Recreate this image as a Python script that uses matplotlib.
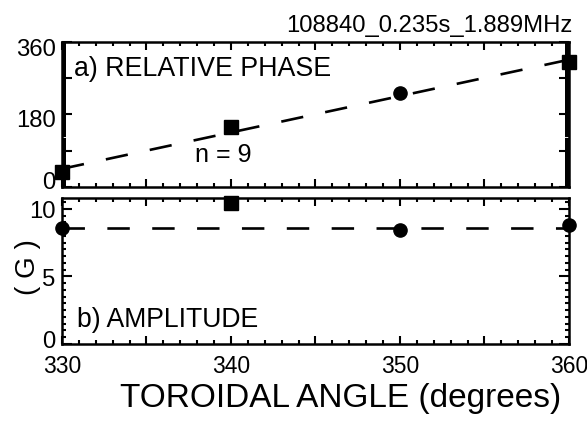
import matplotlib
matplotlib.use("Agg")
import matplotlib.pyplot as plt
import matplotlib.transforms as mtransforms
from matplotlib.ticker import FixedLocator, MultipleLocator, FixedFormatter

plt.rcParams['font.family'] = ['Liberation Sans', 'DejaVu Sans']

# toroidal probe angles (degrees)
angle = [330, 340, 350, 360]
# relative phase (degrees) and marker shape per probe
phase = [38, 149, 233, 310]
phase_marker = ['s', 's', 'o', 's']
# amplitude (G) and marker shape per probe
amplitude = [8.6, 10.4, 8.4, 8.8]
amp_marker = ['o', 's', 'o', 'o']

# n = 9 fit for the phase, and mean level for the amplitude
fit_angle = [330, 360]
fit_phase = [45, 315]
amp_level = 8.6

title = "108840_0.235s_1.889MHz"

W, H = 587, 422
fig = plt.figure(figsize=(W / 100, H / 100), dpi=100)

def rect(l, t, r, b):
    return [l / W, 1 - b / H, (r - l) / W, (b - t) / H]

ax1 = fig.add_axes(rect(62, 41.5, 569, 187))
ax2 = fig.add_axes(rect(62, 198, 569, 344))

dash = (0, (8.5, 8.5))
lw = 1.9

ax1.plot(fit_angle, fit_phase, color='black', lw=lw, linestyle=dash)
for x, y, m in zip(angle, phase, phase_marker):
    ax1.plot([x], [y], marker=m, color='black', markersize=9.5, clip_on=False)

ax2.plot(fit_angle, [amp_level, amp_level], color='black', lw=lw, linestyle=dash)
for x, y, m in zip(angle, amplitude, amp_marker):
    ax2.plot([x], [y], marker=m, color='black', markersize=9.5, clip_on=False)

for ax in (ax1, ax2):
    ax.set_xlim(330, 360)
    for s in ax.spines.values():
        s.set_linewidth(1.8)
    ax.xaxis.set_major_locator(FixedLocator([330, 335, 340, 345, 350, 355, 360]))
    ax.xaxis.set_minor_locator(MultipleLocator(1))
    ax.tick_params(which='both', direction='in', top=True, right=True,
                   width=1.5, colors='black')
    ax.tick_params(axis='x', which='major', length=5.5, pad=8, labelsize=16.5)
    ax.tick_params(axis='x', which='minor', length=2.7)
    ax.tick_params(axis='y', which='major', length=7, pad=4.5, labelsize=17.2)
    ax.tick_params(axis='y', which='minor', length=3)

# phase panel
ax1.set_ylim(0, 360)
ax1.yaxis.set_major_locator(FixedLocator([0, 90, 180, 270, 360]))
ax1.yaxis.set_major_formatter(FixedFormatter(['0', '', '180', '', '360']))
ax1.yaxis.set_minor_locator(MultipleLocator(5))
ax1.tick_params(axis='x', labelbottom=False)

# amplitude panel
ax2.set_ylim(0, 10.8)
ax2.yaxis.set_major_locator(FixedLocator([0, 5, 10]))
ax2.yaxis.set_minor_locator(MultipleLocator(0.5))
ax2.xaxis.set_major_formatter(FixedFormatter(['330', '', '340', '', '350', '', '360']))

# nudge y labels vertically (pixels, positive = up)
def nudge(ax, shifts):
    for tick, dy in zip(ax.yaxis.get_major_ticks(), shifts):
        off = mtransforms.ScaledTranslation(0, dy / 100, fig.dpi_scale_trans)
        tick.label1.set_transform(tick.label1.get_transform() + off)

nudge(ax1, [7, 0, -4, 0, -6])
nudge(ax2, [5, -1, -1])

fig.text(573 / W, 1 - 32 / H, title, ha='right', va='baseline', fontsize=17.2)
fig.text(74 / W, 1 - 76 / H, "a) RELATIVE PHASE", ha='left', va='baseline', fontsize=19.3)
fig.text(223 / W, 1 - 155 / H, "n = 9", ha='center', va='center', fontsize=18)
fig.text(77 / W, 1 - 327 / H, "b) AMPLITUDE", ha='left', va='baseline', fontsize=19.2)
fig.text(28 / W, 1 - 267 / H, "( G )", ha='center', va='center', rotation=90, fontsize=20)
fig.text(341 / W, 1 - 399 / H, "TOROIDAL ANGLE (degrees)", ha='center', va='center', fontsize=24)

fig.savefig("out.png", dpi=100)
